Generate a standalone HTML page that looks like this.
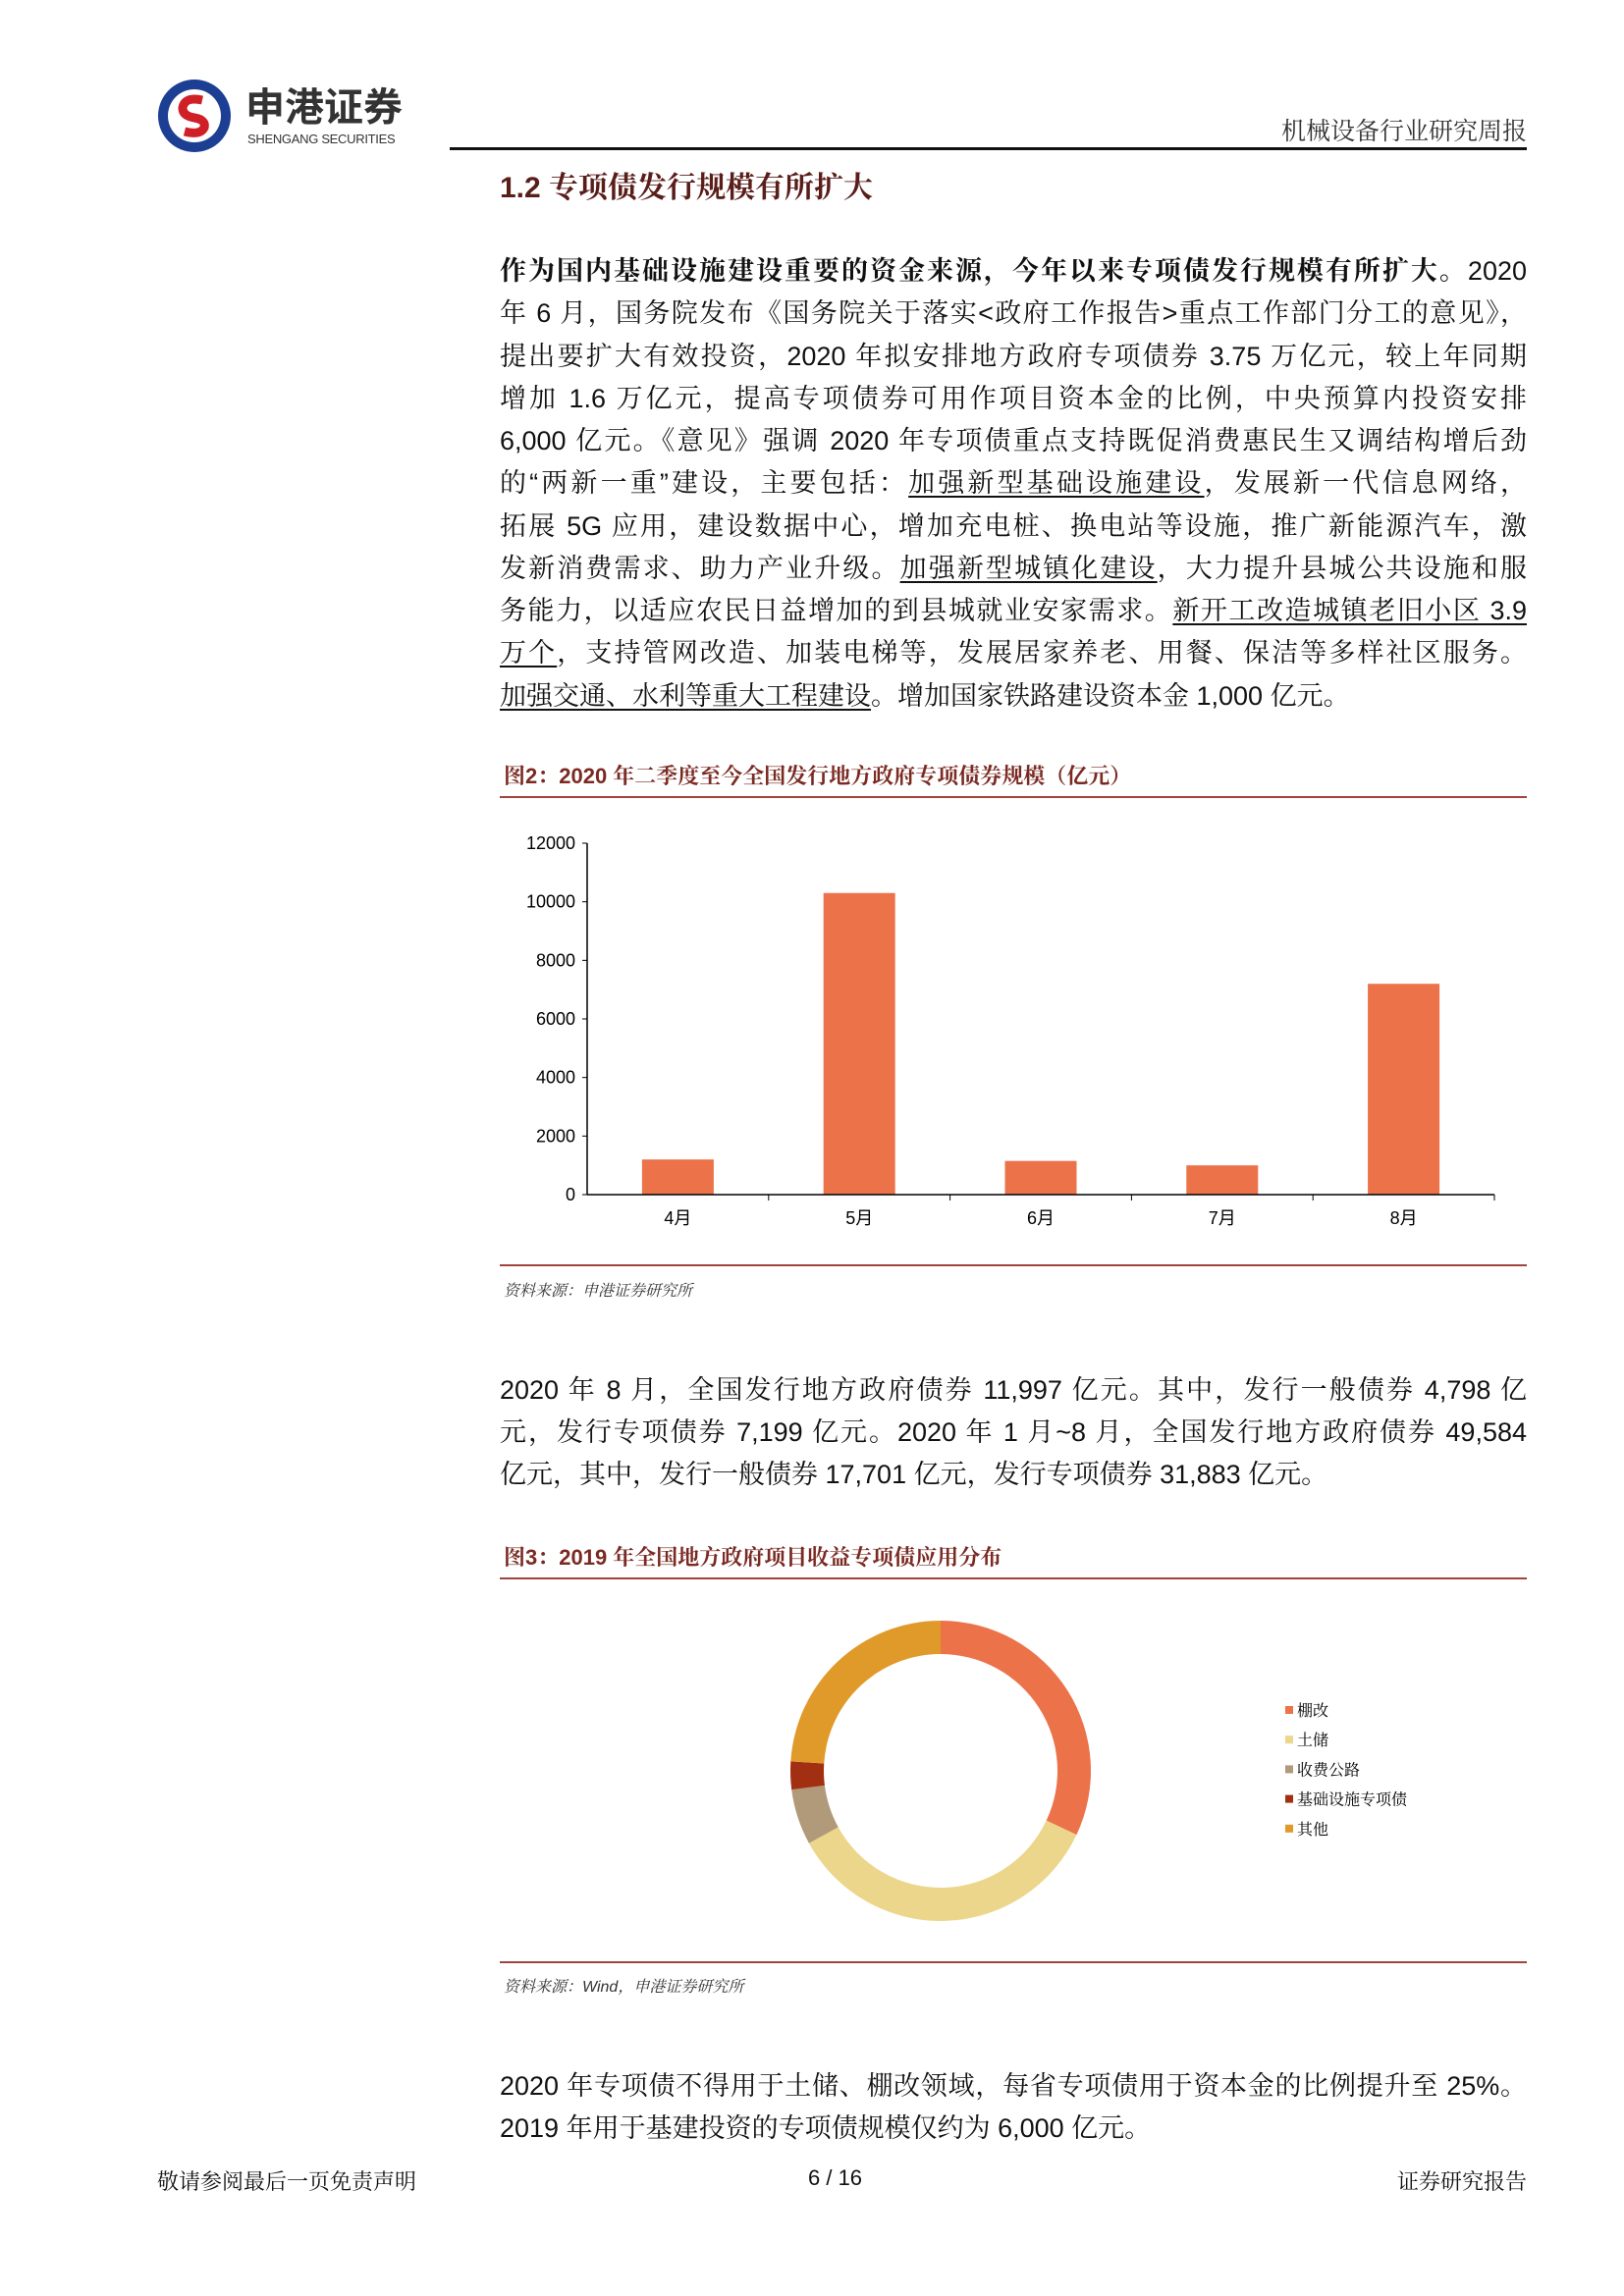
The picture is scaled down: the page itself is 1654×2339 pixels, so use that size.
<!DOCTYPE html>
<html><head><meta charset="utf-8"><style>
body{margin:0;background:#fff;}
#page{position:relative;width:1654px;height:2339px;overflow:hidden;background:#fff;font-family:"Liberation Sans","Noto Serif CJK SC",serif;color:#111;}
.abs{position:absolute;}
.ln{position:absolute;left:509px;width:1046px;height:44px;line-height:44px;font-size:27px;text-align:justify;text-align-last:justify;white-space:nowrap;}
.ln.last{text-align-last:left;}
u{text-decoration:underline;text-underline-offset:4px;}
.ft{font-size:22px;font-weight:bold;color:#7a2a22;}
.src{font-size:16px;font-style:italic;color:#333;}
.rule{position:absolute;left:509px;width:1046px;height:2px;background:#a0443c;}
</style></head><body>
<div id="page">
<svg class="abs" style="left:158px;top:78px" width="80" height="80">
<circle cx="40" cy="40" r="37" fill="#1c3f94"/><circle cx="40" cy="40" r="27" fill="#fff"/>
<path d="M48 24 Q30 20 28 32 Q28 40 40 42 Q52 44 50 52 Q46 60 30 56" stroke="#d02027" stroke-width="9" fill="none"/>
</svg>
<div class="abs" style="left:250px;top:84px;font-size:40px;font-weight:bold;color:#333;font-family:'Noto Sans CJK SC',sans-serif;line-height:44px">申港证券</div>
<div class="abs" style="left:252px;top:134px;font-size:13px;color:#333;letter-spacing:-0.3px">SHENGANG SECURITIES</div>
<div class="abs" style="right:99px;top:118px;font-size:25px;color:#333;line-height:32px">机械设备行业研究周报</div>
<div class="abs" style="left:458px;top:150px;width:1097px;height:3px;background:#111"></div>
<div class="abs" style="left:509px;top:173px;font-size:30px;font-weight:bold;color:#5a1e1a;line-height:38px">1.2 专项债发行规模有所扩大</div>

<div>
<div class="ln" style="top:254px"><b>作为国内基础设施建设重要的资金来源，今年以来专项债发行规模有所扩大。</b>2020</div>
<div class="ln" style="top:297px">年 6 月，国务院发布《国务院关于落实&lt;政府工作报告&gt;重点工作部门分工的意见》，</div>
<div class="ln" style="top:341px">提出要扩大有效投资，2020 年拟安排地方政府专项债券 3.75 万亿元，较上年同期</div>
<div class="ln" style="top:384px">增加 1.6 万亿元，提高专项债券可用作项目资本金的比例，中央预算内投资安排</div>
<div class="ln" style="top:427px">6,000 亿元。《意见》强调 2020 年专项债重点支持既促消费惠民生又调结构增后劲</div>
<div class="ln" style="top:470px">的“两新一重”建设，主要包括：<u>加强新型基础设施建设</u>，发展新一代信息网络，</div>
<div class="ln" style="top:514px">拓展 5G 应用，建设数据中心，增加充电桩、换电站等设施，推广新能源汽车，激</div>
<div class="ln" style="top:557px">发新消费需求、助力产业升级。<u>加强新型城镇化建设</u>，大力提升县城公共设施和服</div>
<div class="ln" style="top:600px">务能力，以适应农民日益增加的到县城就业安家需求。<u>新开工改造城镇老旧小区 3.9</u></div>
<div class="ln" style="top:643px"><u>万个</u>，支持管网改造、加装电梯等，发展居家养老、用餐、保洁等多样社区服务。</div>
<div class="ln last" style="top:687px"><u>加强交通、水利等重大工程建设</u>。增加国家铁路建设资本金 1,000 亿元。</div>
</div>

<div class="abs ft" style="left:513px;top:774px">图2：2020 年二季度至今全国发行地方政府专项债券规模（亿元）</div>
<div class="rule" style="top:811px"></div>
<svg id="bar" class="abs" style="left:0;top:0" width="1654" height="1290"></svg>
<div class="rule" style="top:1288px"></div>
<div class="abs src" style="left:513px;top:1302px">资料来源：申港证券研究所</div>

<div>
<div class="ln" style="top:1394px">2020 年 8 月，全国发行地方政府债券 11,997 亿元。其中，发行一般债券 4,798 亿</div>
<div class="ln" style="top:1437px">元，发行专项债券 7,199 亿元。2020 年 1 月~8 月，全国发行地方政府债券 49,584</div>
<div class="ln last" style="top:1480px">亿元，其中，发行一般债券 17,701 亿元，发行专项债券 31,883 亿元。</div>
</div>

<div class="abs ft" style="left:513px;top:1570px">图3：2019 年全国地方政府项目收益专项债应用分布</div>
<div class="rule" style="top:1607px"></div>
<svg id="donut" class="abs" style="left:0;top:1600px" width="1654" height="398"></svg>
<div class="rule" style="top:1998px"></div>
<div class="abs src" style="left:513px;top:2011px">资料来源：Wind，申港证券研究所</div>

<div>
<div class="ln" style="top:2103px">2020 年专项债不得用于土储、棚改领域，每省专项债用于资本金的比例提升至 25%。</div>
<div class="ln last" style="top:2146px">2019 年用于基建投资的专项债规模仅约为 6,000 亿元。</div>
</div>

<div class="abs" style="left:160px;top:2206px;font-size:22px">敬请参阅最后一页免责声明</div>
<div class="abs" style="left:823px;top:2206px;font-size:22px">6 / 16</div>
<div class="abs" style="right:99px;top:2206px;font-size:22px">证券研究报告</div>
</div>
<script>
const categories=["4月","5月","6月","7月","8月"];
const values=[1200,10300,1150,1000,7199];
const yTicks=[0,2000,4000,6000,8000,10000,12000];
const pieLabels=["棚改","土储","收费公路","基础设施专项债","其他"];
const pieValues=[32,35,6,3,24];
const pieColors=["#ec7249","#ecd68b","#b09a7a","#a32f12","#e09a2a"];
const NS="http://www.w3.org/2000/svg";
function mk(p,t,a){const e=document.createElementNS(NS,t);for(const k in a)e.setAttribute(k,a[k]);p.appendChild(e);return e;}
const bar=document.getElementById('bar');
const x0=598,x1=1522,y0=1217,y1=859;
const y=v=>y0-(v/12000)*(y0-y1);
const cw=(x1-x0)/categories.length;
const ya=mk(bar,'line',{x1:x0,y1:y1,x2:x0,y2:y0,stroke:'#000','stroke-width':1.5});

yTicks.forEach(t=>{
 mk(bar,'line',{x1:x0-5,x2:x0,y1:y(t),y2:y(t),stroke:'#000'});
 const tx=mk(bar,'text',{x:x0-12,y:y(t)+6,'text-anchor':'end','font-size':18,'font-family':'Liberation Sans'});tx.textContent=t;
 
});
categories.forEach((c,i)=>{
 const cx=x0+cw*(i+0.5),bw=73;
 const r=mk(bar,'rect',{x:cx-bw/2,y:y(values[i]),width:bw,height:y0-y(values[i]),fill:'#ec7249'});
 
 mk(bar,'line',{x1:x0+cw*(i+1),x2:x0+cw*(i+1),y1:y0,y2:y0+6,stroke:'#000'});
 const tx=mk(bar,'text',{x:cx,y:y0+30,'text-anchor':'middle','font-size':18,'font-family':'Liberation Sans, Noto Sans CJK SC, sans-serif'});tx.textContent=c;
 
});
const xa=mk(bar,'line',{x1:x0,y1:y0,x2:x1,y2:y0,stroke:'#000','stroke-width':1.5});

const dn=document.getElementById('donut');
const cx=958,cy=204,R=153,r0=119;
const tot=pieValues.reduce((a,b)=>a+b,0);let acc=0;
const pt=(rad,f)=>{const a=f*2*Math.PI;return [cx+rad*Math.sin(a),cy-rad*Math.cos(a)];};
pieValues.forEach((v,i)=>{
 const f0=acc/tot,f1=(acc+v)/tot;acc+=v;
 const lg=(f1-f0)>0.5?1:0;
 const [a,b]=pt(R,f0),[c,d]=pt(R,f1),[e,f]=pt(r0,f1),[g,h]=pt(r0,f0);
 const p=mk(dn,'path',{d:`M${a} ${b}A${R} ${R} 0 ${lg} 1 ${c} ${d}L${e} ${f}A${r0} ${r0} 0 ${lg} 0 ${g} ${h}Z`,fill:pieColors[i]});
 
 const ly=143+i*30.2;
 const sq=mk(dn,'rect',{x:1309,y:ly-5,width:8,height:8,fill:pieColors[i]});
 
 const t=mk(dn,'text',{x:1321,y:ly+5,'font-size':16,'font-family':'Noto Serif CJK SC, serif'});t.textContent=pieLabels[i];
 
});
</script>
</body></html>
